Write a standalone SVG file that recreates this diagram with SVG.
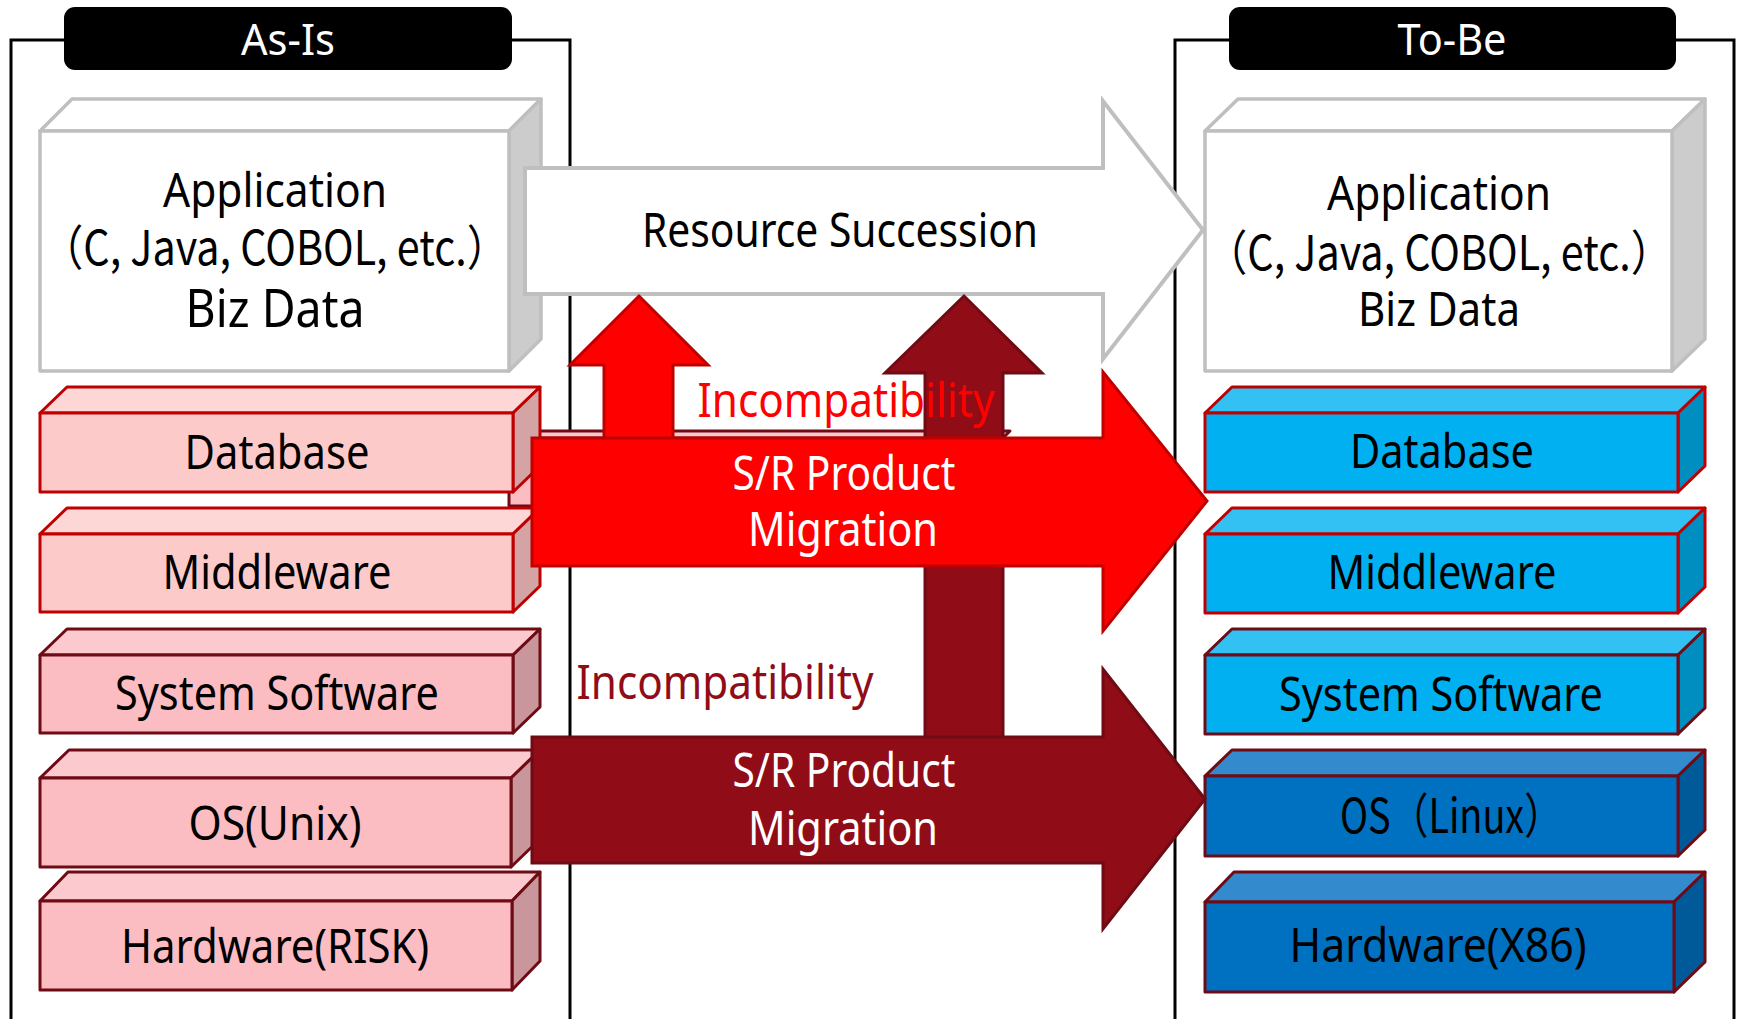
<svg xmlns="http://www.w3.org/2000/svg" width="1737" height="1019" viewBox="0 0 1737 1019">
<style>
text{font-family:"Noto Sans","Noto Sans CJK JP",sans-serif;text-anchor:middle}
.cjk{font-family:"Noto Sans CJK JP","Noto Sans",sans-serif}
.frame{fill:none;stroke:#000;stroke-width:3}
.lbl{fill:#000}
.lblt{fill:#fff;font-size:44px}
.t{fill:#000;font-size:48px}
.appF{fill:#fff;stroke:#bfbfbf;stroke-width:3.5;stroke-linejoin:round}
.appT{fill:#fff;stroke:#bfbfbf;stroke-width:3.5;stroke-linejoin:round}
.appS{fill:#cccccc;stroke:#bfbfbf;stroke-width:3.5;stroke-linejoin:round}
.pF{fill:#fdcaca;stroke:#c00000;stroke-width:3;stroke-linejoin:round}
.pT{fill:#fdd6d6;stroke:#c00000;stroke-width:3;stroke-linejoin:round}
.pS{fill:#d4a3a3;stroke:#c00000;stroke-width:3;stroke-linejoin:round}
.qF{fill:#fbbcc2;stroke:#6e0b14;stroke-width:3;stroke-linejoin:round}
.qT{fill:#fcc9ce;stroke:#6e0b14;stroke-width:3;stroke-linejoin:round}
.qS{fill:#c9979b;stroke:#6e0b14;stroke-width:3;stroke-linejoin:round}
.bF{fill:#00b0f0;stroke:#c00000;stroke-width:3;stroke-linejoin:round}
.bT{fill:#33c0f3;stroke:#c00000;stroke-width:3;stroke-linejoin:round}
.bS{fill:#008dc0;stroke:#c00000;stroke-width:3;stroke-linejoin:round}
.cF{fill:#00b0f0;stroke:#6e0b14;stroke-width:3;stroke-linejoin:round}
.cT{fill:#33c0f3;stroke:#6e0b14;stroke-width:3;stroke-linejoin:round}
.cS{fill:#008dc0;stroke:#6e0b14;stroke-width:3;stroke-linejoin:round}
.dF{fill:#0070c0;stroke:#6e0b14;stroke-width:3;stroke-linejoin:round}
.dT{fill:#338acc;stroke:#6e0b14;stroke-width:3;stroke-linejoin:round}
.dS{fill:#005a9a;stroke:#6e0b14;stroke-width:3;stroke-linejoin:round}
.arrW{fill:#fff;stroke:#bfbfbf;stroke-width:4;stroke-linejoin:miter}
.arrR{fill:#ff0000;stroke:#c00000;stroke-width:3;stroke-linejoin:miter}
.arrD{fill:#900c17;stroke:#6e0b14;stroke-width:3;stroke-linejoin:miter}
.wt{fill:#fff;font-size:48px}
</style>

<g id="frame-asis">
<polyline class="frame" points="11,1019 11,40 64,40"/>
<polyline class="frame" points="512,40 570,40 570,1019"/>
</g>
<g id="frame-tobe">
<polyline class="frame" points="1175,1019 1175,40 1229,40"/>
<polyline class="frame" points="1676,40 1734,40 1734,1019"/>
</g>

<g id="label-asis">
<rect class="lbl" x="64" y="7" width="448" height="63" rx="11"/>
<text class="lblt" x="288" y="55" textLength="94" lengthAdjust="spacingAndGlyphs">As-Is</text>
</g>
<g id="label-tobe">
<rect class="lbl" x="1229" y="7" width="447" height="63" rx="11"/>
<text class="lblt" x="1452" y="55" textLength="109" lengthAdjust="spacingAndGlyphs">To-Be</text>
</g>

<g id="hidden-box">
<rect class="qF" x="509" y="438" width="494" height="68"/>
<polygon class="qT" points="509,438 516,431 1010,431 1003,438"/>
</g>

<g id="asis-application">
<polygon class="appT" points="40,131 72,99 541,99 509,131"/>
<polygon class="appS" points="509,131 541,99 541,339 509,371"/>
<rect class="appF" x="40" y="131" width="469" height="240"/>
<text class="t" x="275" y="207" textLength="224" lengthAdjust="spacingAndGlyphs">Application</text>
<text class="t cjk" x="275" y="265" textLength="466" lengthAdjust="spacingAndGlyphs">（C, Java, COBOL, etc.）</text>
<text class="t" x="275" y="327" textLength="179" lengthAdjust="spacingAndGlyphs" style="font-size:52px">Biz Data</text>
</g>

<g id="asis-database">
<polygon class="pT" points="40,413 67,387 540,387 513,413"/>
<polygon class="pS" points="513,413 540,387 540,466 513,492"/>
<rect class="pF" x="40" y="413" width="473" height="79"/>
<text class="t" x="277" y="469" textLength="185" lengthAdjust="spacingAndGlyphs">Database</text>
</g>
<g id="asis-middleware">
<polygon class="pT" points="40,534 67,508 540,508 513,534"/>
<polygon class="pS" points="513,534 540,508 540,586 513,612"/>
<rect class="pF" x="40" y="534" width="473" height="78"/>
<text class="t" x="277" y="589" textLength="229" lengthAdjust="spacingAndGlyphs">Middleware</text>
</g>
<g id="asis-systemsoftware">
<polygon class="qT" points="40,655 67,629 540,629 513,655"/>
<polygon class="qS" points="513,655 540,629 540,707 513,733"/>
<rect class="qF" x="40" y="655" width="473" height="78"/>
<text class="t" x="277" y="710" textLength="324" lengthAdjust="spacingAndGlyphs">System Software</text>
</g>
<g id="asis-hardware">
<polygon class="qT" points="40,901 68,872 540,872 512,901"/>
<polygon class="qS" points="512,901 540,872 540,961 512,990"/>
<rect class="qF" x="40" y="901" width="472" height="89"/>
<text class="t" x="275" y="963" textLength="308" lengthAdjust="spacingAndGlyphs">Hardware(RISK)</text>
</g>
<g id="asis-os">
<polygon class="qT" points="40,778 69,750 540,750 511,778"/>
<polygon class="qS" points="511,778 540,750 540,839 511,867"/>
<rect class="qF" x="40" y="778" width="471" height="89"/>
<text class="t" x="275" y="840" textLength="173" lengthAdjust="spacingAndGlyphs">OS(Unix)</text>
</g>

<g id="tobe-application">
<polygon class="appT" points="1205,131 1238,99 1705,99 1672,131"/>
<polygon class="appS" points="1672,131 1705,99 1705,339 1672,371"/>
<rect class="appF" x="1205" y="131" width="467" height="240"/>
<text class="t" x="1439" y="210" textLength="224" lengthAdjust="spacingAndGlyphs">Application</text>
<text class="t cjk" x="1439" y="270" textLength="466" lengthAdjust="spacingAndGlyphs">（C, Java, COBOL, etc.）</text>
<text class="t" x="1439" y="326" textLength="162" lengthAdjust="spacingAndGlyphs">Biz Data</text>
</g>
<g id="tobe-database">
<polygon class="bT" points="1205,413 1232,387 1705,387 1678,413"/>
<polygon class="bS" points="1678,413 1705,387 1705,466 1678,492"/>
<rect class="bF" x="1205" y="413" width="473" height="79"/>
<text class="t" x="1442" y="468" textLength="184" lengthAdjust="spacingAndGlyphs">Database</text>
</g>
<g id="tobe-middleware">
<polygon class="bT" points="1205,534 1232,508 1705,508 1678,534"/>
<polygon class="bS" points="1678,534 1705,508 1705,587 1678,613"/>
<rect class="bF" x="1205" y="534" width="473" height="79"/>
<text class="t" x="1442" y="589" textLength="229" lengthAdjust="spacingAndGlyphs">Middleware</text>
</g>
<g id="tobe-systemsoftware">
<polygon class="cT" points="1205,655 1232,629 1705,629 1678,655"/>
<polygon class="cS" points="1678,655 1705,629 1705,708 1678,734"/>
<rect class="cF" x="1205" y="655" width="473" height="79"/>
<text class="t" x="1441" y="711" textLength="324" lengthAdjust="spacingAndGlyphs">System Software</text>
</g>
<g id="tobe-os">
<polygon class="dT" points="1205,776 1232,750 1705,750 1678,776"/>
<polygon class="dS" points="1678,776 1705,750 1705,830 1678,856"/>
<rect class="dF" x="1205" y="776" width="473" height="80"/>
<text class="t cjk" x="1451" y="833" textLength="222" lengthAdjust="spacingAndGlyphs">OS（Linux）</text>
</g>
<g id="tobe-hardware">
<polygon class="dT" points="1205,902 1234,872 1705,872 1674,902"/>
<polygon class="dS" points="1674,902 1705,872 1705,962 1674,992"/>
<rect class="dF" x="1205" y="902" width="469" height="90"/>
<text class="t" x="1438" y="962" textLength="297" lengthAdjust="spacingAndGlyphs">Hardware(X86)</text>
</g>

<g id="connectors">
<g id="resource-succession">
<polygon class="arrW" points="525,168 1103,168 1103,101 1203,230 1103,359 1103,294 525,294"/>
<text class="t" x="840" y="247" textLength="396" lengthAdjust="spacingAndGlyphs">Resource Succession</text>
</g>
<g id="incompat-up-red">
<polygon class="arrR" points="604,445 604,365 570,365 639,296 708,365 673,365 673,445"/>
</g>
<g id="incompat-up-dark">
<polygon class="arrD" points="925,740 925,373 885,373 964,296 1042,373 1003,373 1003,740"/>
</g>
<g id="migration-dark">
<polygon class="arrD" points="532,737 1103,737 1103,669 1205,799 1103,929 1103,863 532,863"/>
<text class="wt" x="844" y="787" textLength="223" lengthAdjust="spacingAndGlyphs">S/R Product</text>
<text class="wt" x="843" y="845" textLength="190" lengthAdjust="spacingAndGlyphs">Migration</text>
</g>
<g id="migration-red">
<polygon class="arrR" points="532,438 1103,438 1103,372 1207,501 1103,631 1103,566 532,566"/>
<text class="wt" x="844" y="490" textLength="223" lengthAdjust="spacingAndGlyphs">S/R Product</text>
<text class="wt" x="843" y="546" textLength="190" lengthAdjust="spacingAndGlyphs">Migration</text>
</g>
<text x="846" y="417" textLength="297" lengthAdjust="spacingAndGlyphs" style="fill:#ff0000;font-size:48px">Incompatibility</text>
<text x="725" y="699" textLength="297" lengthAdjust="spacingAndGlyphs" style="fill:#900c17;font-size:48px">Incompatibility</text>
</g>
</svg>
